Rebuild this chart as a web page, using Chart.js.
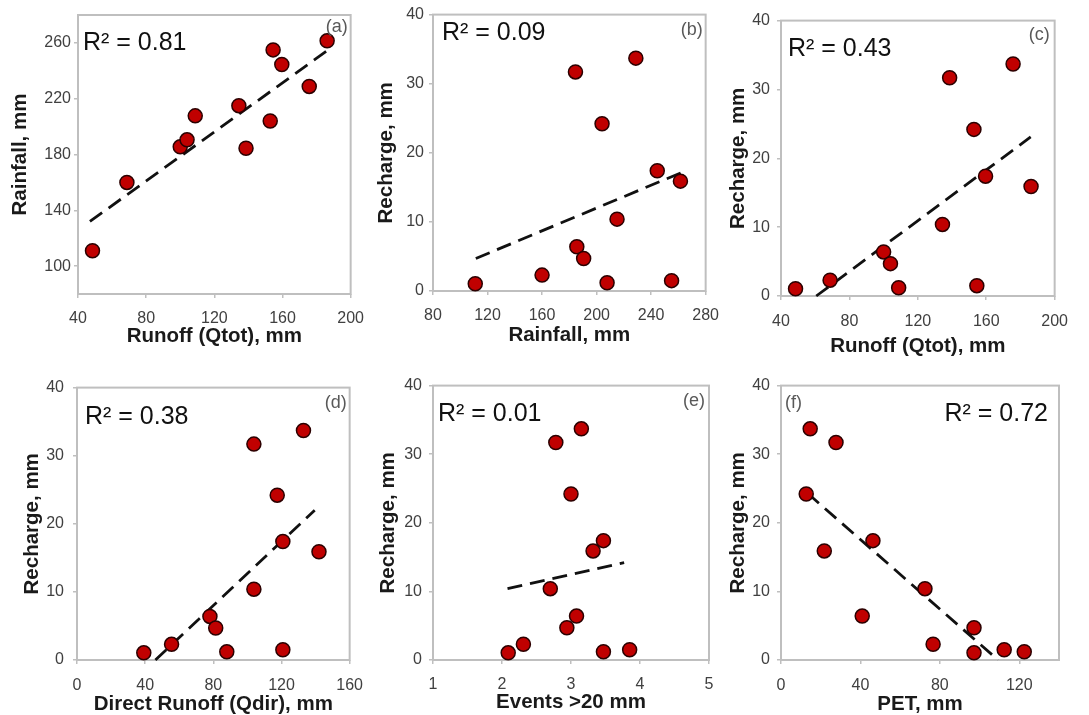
<!DOCTYPE html>
<html>
<head>
<meta charset="utf-8">
<script src="https://cdn.jsdelivr.net/npm/chart.js@4.4.0/dist/chart.umd.min.js"></script>
<style>
  html, body { margin: 0; padding: 0; background: #fff; }
  body { width: 1089px; height: 715px; position: relative; overflow: hidden; }
  canvas { position: absolute; }
</style>
</head>
<body>
<canvas id="pa"></canvas>
<canvas id="pb"></canvas>
<canvas id="pc"></canvas>
<canvas id="pd"></canvas>
<canvas id="pe"></canvas>
<canvas id="pf"></canvas>
<script>
// số liệu (12 năm quan trắc)
const qtot     = [48.5, 68.7, 100, 104, 108.8, 134.4, 138.6, 152.8, 154.5, 159.6, 175.7, 186.2];
const rainfall = [111, 160, 185.5, 190.5, 207.7, 215, 184.5, 204, 255, 244.5, 228.8, 261.5];
const recharge = [1.05, 2.3, 6.4, 4.7, 1.2, 10.4, 31.7, 24.2, 1.5, 17.4, 33.7, 15.9];
const qdir     = [39.2, 55.5, 78, 81.4, 87.9, 103.8, 103.8, 117.5, 120.8, 120.8, 132.9, 142];
const events   = [2.09, 2.31, 3.08, 2.94, 3.47, 2.70, 2.78, 3.0, 3.85, 3.47, 3.15, 3.32];
const pet      = [97.2, 76.6, 40.9, 97.2, 122.5, 72.5, 27.7, 12.7, 112.4, 46.3, 14.7, 21.8];

// đường xu hướng (điểm đầu, điểm cuối)
const trendAx = [47, 188],    trendAy = [132, 256];
const trendBx = [111.4, 263], trendBy = [4.7, 17.2];
const trendCx = [60.6, 186],  trendCy = [0, 23.1];
const trendDx = [46, 139.5],  trendDy = [0, 22];
const trendEx = [2.08, 3.77], trendEy = [10.4, 14.2];
const trendFx = [13.4, 109.3], trendFy = [24.3, 0];

// nhãn trục
const ticksRunoff   = [40, 80, 120, 160, 200];
const ticksRainY    = [100, 140, 180, 220, 260];
const ticksRainX    = [80, 120, 160, 200, 240, 280];
const ticksRecharge = [0, 10, 20, 30, 40];
const ticksQdir     = [0, 40, 80, 120, 160];
const ticksEvents   = [1, 2, 3, 4, 5];
const ticksPet      = [0, 40, 80, 120];

const r2Labels  = ['R² = 0.81', 'R² = 0.09', 'R² = 0.43', 'R² = 0.38', 'R² = 0.01', 'R² = 0.72'];
const panelTags = ['(a)', '(b)', '(c)', '(d)', '(e)', '(f)'];

const FONT = '"Liberation Sans", Arial, sans-serif';
const PAD_TOP = 14, PAD_RIGHT = 22;

// khung + chữ R² và nhãn (a)...(f)
const panelText = {
    id: 'panelText',
    beforeDatasetsDraw(chart) {
        const { ctx, chartArea: a } = chart;
        ctx.save();
        ctx.strokeStyle = '#bfbfbf';
        ctx.lineWidth = 2;
        ctx.strokeRect(a.left, a.top, a.right - a.left, a.bottom - a.top);
        ctx.restore();
    },
    afterDatasetsDraw(chart, args, opts) {
        const { ctx, chartArea: a } = chart;
        ctx.save();
        ctx.textBaseline = 'alphabetic';
        ctx.font = '25px ' + FONT;
        ctx.fillStyle = '#111';
        ctx.textAlign = opts.r2Pos[2];
        const rx = opts.r2Pos[2] === 'left' ? a.left + opts.r2Pos[0] : a.right + opts.r2Pos[0];
        ctx.fillText(opts.r2, rx, a.top + opts.r2Pos[1]);

        ctx.font = '18px ' + FONT;
        ctx.fillStyle = '#595959';
        ctx.textBaseline = 'middle';
        ctx.textAlign = opts.tagPos[2];
        const tx = opts.tagPos[2] === 'left' ? a.left + opts.tagPos[0] : a.right + opts.tagPos[0];
        ctx.fillText(opts.tag, tx, a.top + opts.tagPos[1]);
        ctx.restore();
    }
};

const panels = [
    { id: 'pa', xs: qtot, ys: rainfall, tx: trendAx, ty: trendAy,
      xTitle: 'Runoff (Qtot), mm', yTitle: 'Rainfall, mm',
      xMin: 40, xMax: 200, xTicks: ticksRunoff, yMin: 80, yMax: 280, yTicks: ticksRainY,
      box: [78, 15, 353, 294], yW: 70, xH: 55, yPad: 3, xPad: 11,
      r2Pos: [5, 35, 'left'], tagPos: [-3, 12, 'right'] },
    { id: 'pb', xs: rainfall, ys: recharge, tx: trendBx, ty: trendBy,
      xTitle: 'Rainfall, mm', yTitle: 'Recharge, mm',
      xMin: 80, xMax: 280, xTicks: ticksRainX, yMin: 0, yMax: 40, yTicks: ticksRecharge,
      box: [433, 14, 708, 291], yW: 59, xH: 57, yPad: 5, xPad: 11,
      r2Pos: [9, 25, 'left'], tagPos: [-3, 15, 'right'] },
    { id: 'pc', xs: qtot, ys: recharge, tx: trendCx, ty: trendCy,
      xTitle: 'Runoff (Qtot), mm', yTitle: 'Recharge, mm',
      xMin: 40, xMax: 200, xTicks: ticksRunoff, yMin: 0, yMax: 40, yTicks: ticksRecharge,
      box: [781, 18, 1058, 296], yW: 55, xH: 63, yPad: 7, xPad: 12,
      r2Pos: [7, 35, 'left'], tagPos: [-5, 14, 'right'] },
    { id: 'pd', xs: qdir, ys: recharge, tx: trendDx, ty: trendDy,
      xTitle: 'Direct Runoff (Qdir), mm', yTitle: 'Recharge, mm',
      xMin: 0, xMax: 160, xTicks: ticksQdir, yMin: 0, yMax: 40, yTicks: ticksRecharge,
      box: [77, 383, 353, 660], yW: 57, xH: 57, yPad: 9, xPad: 12,
      r2Pos: [8, 36, 'left'], tagPos: [-3, 15, 'right'] },
    { id: 'pe', xs: events, ys: recharge, tx: trendEx, ty: trendEy,
      xTitle: 'Events >20 mm', yTitle: 'Recharge, mm',
      xMin: 1, xMax: 5, xTicks: ticksEvents, yMin: 0, yMax: 40, yTicks: ticksRecharge,
      box: [433, 383, 709, 660], yW: 57, xH: 55, yPad: 7, xPad: 11,
      r2Pos: [5, 35, 'left'], tagPos: [-4, 15, 'right'] },
    { id: 'pf', xs: pet, ys: recharge, tx: trendFx, ty: trendFy,
      xTitle: 'PET, mm', yTitle: 'Recharge, mm',
      xMin: 0, xMax: 140, xTicks: ticksPet, yMin: 0, yMax: 40, yTicks: ticksRecharge,
      box: [781, 383, 1059, 660], yW: 55, xH: 57, yPad: 7, xPad: 12,
      r2Pos: [-11, 35, 'right'], tagPos: [4, 17, 'left'] }
];

panels.forEach((p, i) => {
    const canvas = document.getElementById(p.id);
    const [L, T, R, B] = p.box;
    canvas.width = p.yW + (R - L) + PAD_RIGHT;
    canvas.height = PAD_TOP + (B - T) + p.xH;
    canvas.style.left = (L - p.yW) + 'px';
    canvas.style.top = (T - PAD_TOP) + 'px';

    const gridOpts = { display: true, drawOnChartArea: false, drawTicks: true, tickLength: 4, color: '#bfbfbf', lineWidth: 1.5 };

    new Chart(canvas.getContext('2d'), {
        type: 'scatter',
        data: {
            datasets: [{
                data: p.xs.map((v, k) => ({ x: v, y: p.ys[k] })),
                backgroundColor: '#c00000',
                borderColor: '#2b0000',
                borderWidth: 1.5,
                pointRadius: 7,
                pointHoverRadius: 7
            }, {
                data: p.tx.map((v, k) => ({ x: v, y: p.ty[k] })),
                showLine: true,
                borderColor: '#111',
                borderWidth: 2.8,
                borderDash: [15, 8],
                pointRadius: 0,
                fill: false
            }]
        },
        options: {
            responsive: false,
            animation: false,
            clip: false,
            layout: { padding: { top: PAD_TOP, right: PAD_RIGHT, left: 0, bottom: 0 } },
            scales: {
                x: {
                    type: 'linear', min: p.xMin, max: p.xMax,
                    afterBuildTicks: s => { s.ticks = p.xTicks.map(v => ({ value: v })); },
                    afterFit: s => { s.height = p.xH; },
                    grid: gridOpts,
                    border: { display: false },
                    ticks: { padding: p.xPad, color: '#404040', font: { family: FONT, size: 16 }, maxRotation: 0, autoSkip: false },
                    title: { display: true, text: p.xTitle, color: '#1a1a1a', padding: 0,
                             font: { family: FONT, size: 20.5, weight: 'bold' } }
                },
                y: {
                    type: 'linear', min: p.yMin, max: p.yMax,
                    afterBuildTicks: s => { s.ticks = p.yTicks.map(v => ({ value: v })); },
                    afterFit: s => { s.width = p.yW; },
                    grid: gridOpts,
                    border: { display: false },
                    ticks: { padding: p.yPad, color: '#404040', font: { family: FONT, size: 16 }, autoSkip: false },
                    title: { display: true, text: p.yTitle, color: '#1a1a1a', padding: 0,
                             font: { family: FONT, size: 20.5, weight: 'bold' } }
                }
            },
            plugins: {
                legend: { display: false },
                tooltip: { enabled: false },
                panelText: { r2: r2Labels[i], tag: panelTags[i], r2Pos: p.r2Pos, tagPos: p.tagPos }
            }
        },
        plugins: [panelText]
    });
});
</script>
</body>
</html>
